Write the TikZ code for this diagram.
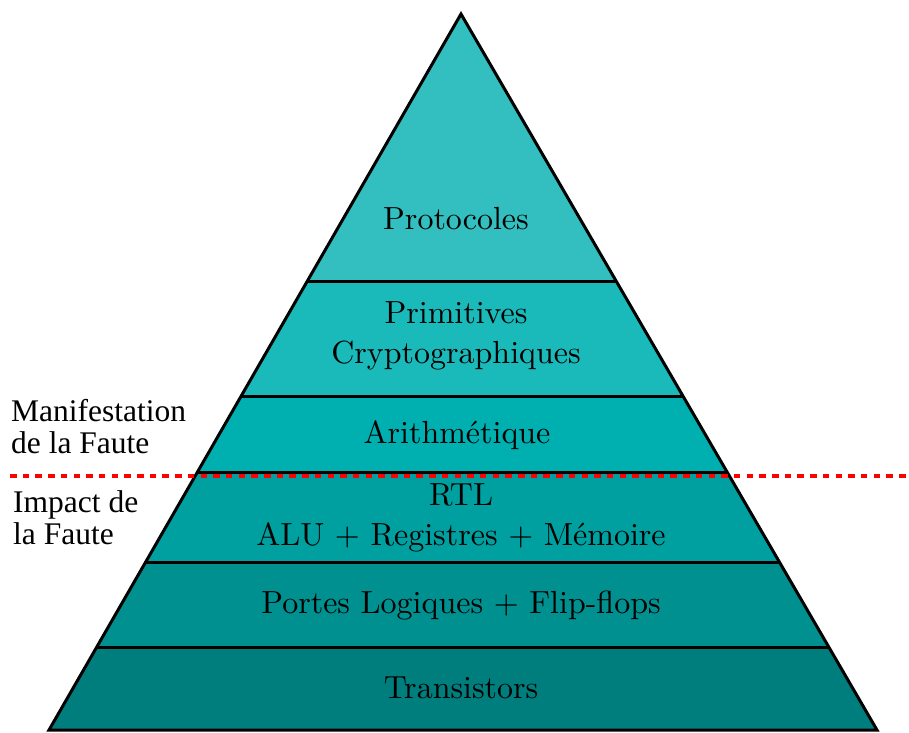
\documentclass[tikz,border=0pt]{standalone}
\usepackage{fontspec}
\newfontfamily\timesfont{Liberation Serif}
\newfontfamily\lmten{lmroman10-regular}[Extension=.otf]
\usetikzlibrary{calc}
\definecolor{cA}{RGB}{51,191,191}
\definecolor{cB}{RGB}{26,186,186}
\definecolor{cC}{RGB}{0,176,176}
\definecolor{cD}{RGB}{0,160,160}
\definecolor{cE}{RGB}{0,144,144}
\definecolor{cF}{RGB}{0,126,126}
\tikzset{
  edge/.style={line width=3pt, line join=miter},
  lbl/.style={font=\lmten\fontsize{32}{40}\selectfont, align=center, inner sep=0pt},
  side/.style={font=\timesfont\fontsize{31.5}{32}\selectfont, align=left, inner sep=0pt, anchor=north west},
  faultline/.style={red, line width=4pt, dash pattern=on 6.5pt off 6.2pt}
}
\begin{document}
\begin{tikzpicture}[x=1pt,y=-1pt]
\useasboundingbox (0,0) rectangle (909,732);
\coordinate (A) at (461,14);
\coordinate (BL) at (49,730);
\coordinate (BR) at (877,730);
\foreach \n/\t in {1/0.37291,2/0.53352,3/0.63966,4/0.76536,5/0.88408}{
  \coordinate (L\n) at ($(A)!\t!(BL)$);
  \coordinate (R\n) at ($(A)!\t!(BR)$);
}
\fill[cA] (A) -- (L1) -- (R1) -- cycle;
\fill[cB] (L1) -- (L2) -- (R2) -- (R1) -- cycle;
\fill[cC] (L2) -- (L3) -- (R3) -- (R2) -- cycle;
\fill[cD] (L3) -- (L4) -- (R4) -- (R3) -- cycle;
\fill[cE] (L4) -- (L5) -- (R5) -- (R4) -- cycle;
\fill[cF] (L5) -- (BL) -- (BR) -- (R5) -- cycle;
\foreach \n in {1,...,5}{ \draw[edge] (L\n) -- (R\n); }
\draw[edge] (A) -- (BL) -- (BR) -- cycle;
\node[lbl] (protocoles) at (456,219) {Protocoles};
\node[lbl] (primitives) at (456,336) {Primitives\\Cryptographiques};
\node[lbl] (arith) at (457,435) {Arithmétique};
\node[lbl] (rtl) at (461,518) {RTL\\ALU + Registres + Mémoire};
\node[lbl] (portes) at (461,606) {Portes Logiques + Flip-flops};
\node[lbl] (trans) at (461,688) {Transistors};
\coordinate (fl) at (10,476);
\coordinate (fr) at (906,476);
\draw[faultline] (fl) -- (fr);
\node[side] (manif) at (11,399) {Manifestation\\de la Faute};
\node[side] (impact) at (13,490) {Impact de\\la Faute};
\end{tikzpicture}
\end{document}
